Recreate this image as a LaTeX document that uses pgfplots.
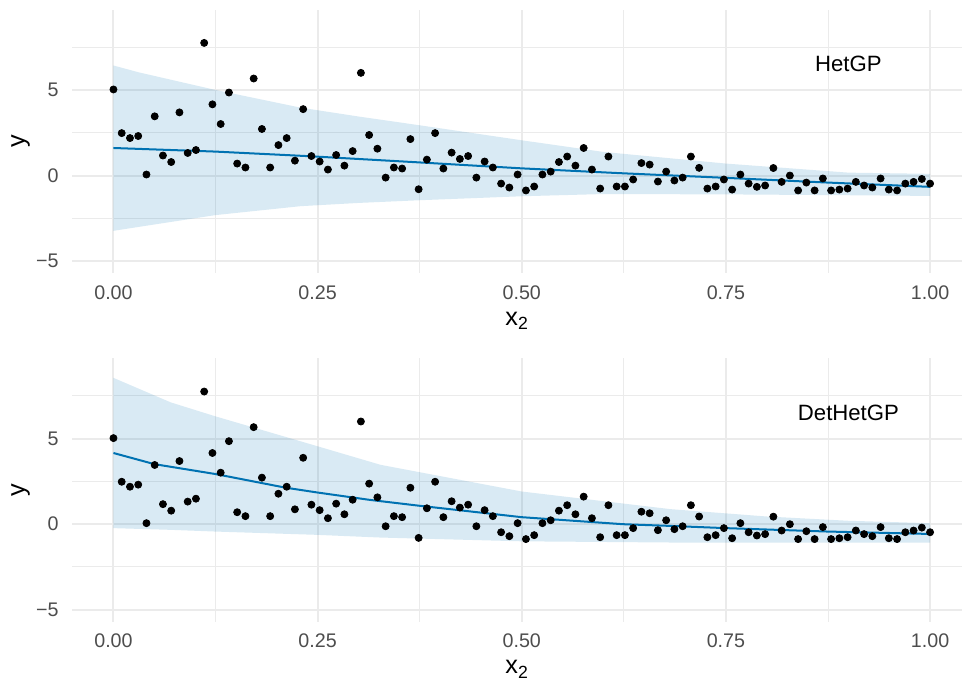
\documentclass[border=0pt]{standalone}
\usepackage{fontspec}
\setmainfont{Liberation Sans}
\usepackage{pgfplots}
\usepackage{pgfplotstable}
\pgfplotsset{compat=1.18}
\definecolor{gpblue}{HTML}{0072B2}
\definecolor{gridc}{HTML}{EBEBEB}
\definecolor{tickc}{HTML}{4D4D4D}

\pgfplotstableread{
x y
0.0000 5.03
0.0101 2.48
0.0202 2.19
0.0303 2.31
0.0404 0.06
0.0505 3.46
0.0606 1.17
0.0707 0.79
0.0808 3.69
0.0909 1.32
0.1010 1.49
0.1111 7.75
0.1212 4.16
0.1313 3.01
0.1414 4.85
0.1515 0.70
0.1616 0.47
0.1717 5.67
0.1818 2.72
0.1919 0.47
0.2020 1.78
0.2121 2.19
0.2222 0.87
0.2323 3.88
0.2424 1.14
0.2525 0.82
0.2626 0.35
0.2727 1.20
0.2828 0.58
0.2929 1.43
0.3030 6.00
0.3131 2.37
0.3232 1.57
0.3333 -0.12
0.3434 0.47
0.3535 0.41
0.3636 2.13
0.3737 -0.80
0.3838 0.93
0.3939 2.48
0.4040 0.41
0.4141 1.34
0.4242 0.97
0.4343 1.14
0.4444 -0.12
0.4545 0.82
0.4646 0.47
0.4747 -0.47
0.4848 -0.70
0.4949 0.06
0.5051 -0.87
0.5152 -0.64
0.5253 0.06
0.5354 0.23
0.5455 0.79
0.5556 1.11
0.5657 0.58
0.5758 1.61
0.5859 0.35
0.5960 -0.76
0.6061 1.11
0.6162 -0.64
0.6263 -0.64
0.6364 -0.23
0.6465 0.73
0.6566 0.64
0.6667 -0.35
0.6768 0.23
0.6869 -0.29
0.6970 -0.12
0.7071 1.11
0.7172 0.45
0.7273 -0.76
0.7374 -0.64
0.7475 -0.23
0.7576 -0.82
0.7677 0.06
0.7778 -0.47
0.7879 -0.66
0.7980 -0.58
0.8081 0.44
0.8182 -0.37
0.8283 0.00
0.8384 -0.87
0.8485 -0.41
0.8586 -0.87
0.8687 -0.17
0.8788 -0.87
0.8889 -0.82
0.8990 -0.76
0.9091 -0.37
0.9192 -0.58
0.9293 -0.70
0.9394 -0.17
0.9495 -0.82
0.9596 -0.87
0.9697 -0.47
0.9798 -0.37
0.9899 -0.20
1.0000 -0.47
}\pts

% HetGP band (upper edge left to right, then lower edge right to left)
\pgfplotstableread{
x y
0.000 6.43
0.031 6.03
0.125 5.00
0.229 3.97
0.300 3.45
0.376 2.93
0.500 2.06
0.600 1.38
0.750 0.70
0.900 0.17
1.000 0.10
1.000 -1.19
0.900 -1.15
0.750 -1.10
0.600 -1.08
0.500 -1.21
0.376 -1.44
0.300 -1.60
0.229 -1.79
0.125 -2.31
0.031 -3.00
0.000 -3.23
}\bandA
\pgfplotstableread{
x m
0.000 1.61
0.125 1.40
0.240 1.13
0.370 0.78
0.500 0.42
0.620 0.14
0.743 -0.12
0.870 -0.40
1.000 -0.66
}\meanA

% DetHetGP band
\pgfplotstableread{
x y
0.000 8.55
0.070 7.12
0.125 6.30
0.248 4.58
0.327 3.47
0.500 1.91
0.682 0.88
0.800 0.45
0.900 0.20
1.000 0.06
1.000 -1.08
0.900 -1.08
0.800 -1.08
0.682 -1.07
0.500 -1.00
0.327 -0.78
0.248 -0.62
0.125 -0.43
0.070 -0.33
0.000 -0.23
}\bandB
\pgfplotstableread{
x m
0.000 4.16
0.050 3.51
0.125 2.93
0.210 2.14
0.250 1.85
0.314 1.42
0.376 1.07
0.500 0.41
0.624 0.00
0.682 -0.10
0.750 -0.23
0.875 -0.43
1.000 -0.57
}\meanB

\pgfplotsset{
  panel/.style={
    scale only axis, width=465.8pt, height=138pt,
    xmin=-0.0504, xmax=1.039, ymin=-5.7, ymax=9.7,
    axis line style={draw=none},
    major tick length=0pt, minor tick length=0pt,
    xtick={0,0.25,0.5,0.75,1}, xticklabels={0.00,0.25,0.50,0.75,1.00},
    ytick={-5,0,5}, yticklabels={−5,0,5},
    minor xtick={0.125,0.375,0.625,0.875}, minor ytick={-2.5,2.5,7.5},
    grid=both,
    major grid style={draw=gridc, line width=1.07pt},
    minor grid style={draw=gridc, line width=0.53pt},
    ticklabel style={font=\fontsize{10.3}{12}\selectfont, text=tickc, inner sep=0pt},
    xticklabel style={anchor=base, yshift=-13.7pt},
    yticklabel style={anchor=east, xshift=-7pt},
    xlabel={x\textsubscript{2}}, ylabel={y},
    label style={font=\fontsize{13.2}{15}\selectfont, inner sep=0pt},
    xlabel style={at={(axis description cs:0.5,-0.197)}, anchor=base},
    ylabel style={at={(axis description cs:-0.0582,0.5)}, anchor=center},
  }
}

\begin{document}
\begin{tikzpicture}
\path[use as bounding box] (0,0) rectangle (503.7pt,356.6pt);
\begin{axis}[panel, at={(37.86pt,213.6pt)}, anchor=south west]
  \addplot[draw=none, fill=gpblue, fill opacity=0.15] table[x=x, y=y] {\bandA} -- cycle;
  \addplot[gpblue, line width=1.05pt] table[x=x, y=m] {\meanA};
  \addplot[only marks, mark=*, mark size=1.85pt, black] table[x=x, y=y] {\pts};
  \node[font=\fontsize{11.6}{13}\selectfont] at (axis cs:0.9,6.5) {HetGP};
\end{axis}
\begin{axis}[panel, at={(37.86pt,31.05pt)}, anchor=south west]
  \addplot[draw=none, fill=gpblue, fill opacity=0.15] table[x=x, y=y] {\bandB} -- cycle;
  \addplot[gpblue, line width=1.05pt] table[x=x, y=m] {\meanB};
  \addplot[only marks, mark=*, mark size=1.85pt, black] table[x=x, y=y] {\pts};
  \node[font=\fontsize{11.6}{13}\selectfont] at (axis cs:0.9,6.5) {DetHetGP};
\end{axis}
\end{tikzpicture}
\end{document}
